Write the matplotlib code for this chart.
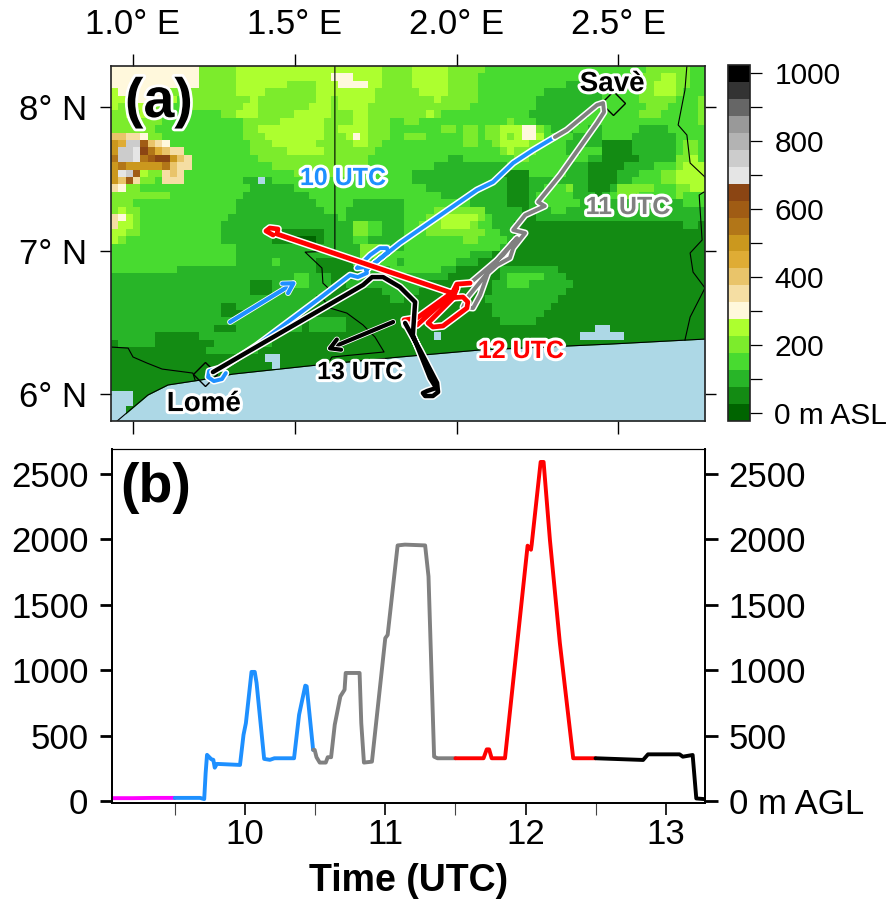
import matplotlib
matplotlib.use('Agg')
import matplotlib.pyplot as plt
import matplotlib.patheffects as pe
from matplotlib.colors import ListedColormap, BoundaryNorm
from matplotlib.colorbar import ColorbarBase
from matplotlib.ticker import FixedLocator
import numpy as np

plt.rcParams['font.family'] = ['Liberation Sans', 'DejaVu Sans']

W, H = 888, 899

# Terrain colours, one per 50 m class
terrain_colors = ['#006400', '#138B13', '#28B528', '#48DB30', '#7CEC2C', '#ADFF2F', '#FFF8DC',
                  '#F5DEA3', '#E9C46A', '#DFAC35', '#CB981E', '#B27618', '#A05C14', '#8B4513',
                  '#E5E5E5', '#CCCCCC', '#B3B3B3', '#999999', '#666666', '#333333', '#000000']
sea_color = '#ADD8E6'

# Terrain classes, north to south (base 36 class, ~ = water)
terrain_rows = [
    "6666666666 6644444555 5555555555 5555555444 4555554444 4333333333 3333333333 3334444443 3",
    "6666666666 6644444555 5555555555 6665555444 4555554444 3333333333 3333233333 3344455443 3",
    "6666666666 6644444555 5555444455 5666655444 4555554444 3333333333 3322222333 3344555443 3",
    "5666666644 4444444555 5444444455 5555554444 4455554444 3333333332 2222222333 3344555433 3",
    "5566666553 4444444445 4444444455 4555554444 4444544444 3333333322 2222222333 3344444333 4",
    "5445554333 4444444455 4444444555 4555544444 4444444443 3333333322 2222223333 3334443333 4",
    "4454544333 3333344555 4444455555 4445544444 4445433333 3333333222 2222233333 3344433333 4",
    "4444444333 3333333344 4445555554 4445544433 4433333333 3333433322 2222333333 3333333333 4",
    "4444443333 3333333344 5555555554 4555544433 3333344344 3445556643 2223322333 3322223333 3",
    "8877644333 3333333344 4555555554 4456544433 4443333344 3445456653 3332222333 3222222333 3",
    "a9ffc87633 3333333334 4455555544 4445544333 3333333344 3345555443 3322222111 1222222344 3",
    "affedb9877 3333333334 4444555554 4444443333 3333333333 3334544433 3322333111 1222222344 3",
    "bffebcdda8 7333333333 4444444444 4444433333 3333332233 3333344333 3333322111 1122222445 3",
    "abaaaaab87 7333333333 3344444444 4444433333 3333222222 2222333333 3322211111 2222333455 5",
    "aefc544787 3333333333 3333343344 4443333333 3222222222 2221111333 3322211112 2233344555 5",
    "a8c7443777 3333333322 ~233333333 3333333333 3222222222 2222111222 2222211112 2333344555 5",
    "7644333333 3333333332 2222233333 3333333333 3332222222 2222111223 3342211124 4444333445 5",
    "4444444433 3333333322 2222222333 3333333333 3333322222 2222111233 3332221234 4433333433 3",
    "4443333333 3333333222 2222222233 3332222222 3333333332 2222111223 3333222222 2222222233 3",
    "4544333333 3333333222 2222222223 3322222222 3333444444 4222221222 3322222222 2222222222 2",
    "7654333333 3333332222 2222222222 2322222222 3334455555 4322221122 2222222222 2222222222 2",
    "7554333333 3333322222 2222222222 2224433222 3344455554 3322211111 1111111111 1111111122 1",
    "5544333333 3333322222 2211111112 2224433222 3334444444 4332211111 1111111111 1111111111 1",
    "5433333333 3333322222 2211100012 2223322222 3333333344 3333211111 1111111111 1111111111 1",
    "3333333333 3333333222 2222222222 2222444322 3333333333 3332211111 1111111111 1111111111 1",
    "3333333333 3333333222 2222222222 2222444333 3333333332 2211111111 1111111111 1111111111 1",
    "3333333333 3333333222 2232222211 1113333332 3333333222 1111111111 1111111111 1111111111 1",
    "3333333332 2222222222 2222222211 1111222233 3333322111 1112222222 2111111111 1111111111 1",
    "2222222222 2222222222 2222233222 1111222222 2222221111 1112333332 2211111111 1111111111 1",
    "2222222222 2222222221 1122233222 1122222222 2221111111 1122333222 2221111111 1111111111 1",
    "2222222222 2222222221 1122222222 1111111222 2211111111 1122222222 2211111111 1111111111 1",
    "2222222222 2222222222 2222222211 1111111122 1111111111 1222222222 2111111111 1111111111 1",
    "2222222222 2222211222 2222222111 1111111111 1111111111 1122222222 1111111111 1111111111 1",
    "2222222222 2222211122 2222221111 1111111111 1111111111 1122222221 1111111111 1111111111 1",
    "2222222222 2222222222 2222221222 2211111111 1111111111 1112222211 1111111111 1111111111 1",
    "2222222222 2222111222 2222221222 2211111111 1111111111 1111111111 111111~~11 1111111111 1",
    "2222221111 1122222222 2211111111 1111111111 1111~11111 1111111111 1111~~~~~~ 1111111111 1",
    "1222221111 1111222222 2211111111 1111111111 1111111111 1",
    "1111111111 1112222222 1111111111 1",
    "1111111111 1111111111 1~~1111111 1",
    "1111111111 1111111111 11~1111111 1",
    "1",
    "1",
    "1",
    "~~~1111111 1",
    "~~~1111111 1",
    "~~11111111 1",
    "~~11111111 1",
]

# Coast and borders (lon, lat)
coast_lon = [0.951, 1.046, 1.108, 1.207, 1.309, 1.569, 1.825, 2.073, 2.474, 2.768]
coast_lat = [5.812, 5.993, 6.063, 6.097, 6.139, 6.202, 6.258, 6.307, 6.348, 6.383]
togo_benin_lon = [1.624, 1.624, 1.532, 1.584, 1.587, 1.603, 1.578, 1.609, 1.661, 1.711, 1.748, 1.776, 1.615, 1.609]
togo_benin_lat = [8.286, 6.996, 6.989, 6.878, 6.773, 6.739, 6.690, 6.599, 6.564, 6.481, 6.397, 6.293, 6.258, 6.237]
ghana_togo_lon = [0.935, 0.985, 1.0, 1.043, 1.090, 1.185, 1.192]
ghana_togo_lat = [6.327, 6.320, 6.258, 6.216, 6.174, 6.146, 6.097]
east1_lon = [2.712, 2.706, 2.685, 2.712, 2.722, 2.768]
east1_lat = [8.286, 8.118, 7.875, 7.805, 7.610, 7.512]
east2_lon = [2.765, 2.750, 2.759, 2.722, 2.731, 2.768, 2.722, 2.706]
east2_lat = [7.408, 7.387, 7.073, 6.983, 6.850, 6.739, 6.536, 6.376]

# Flight tracks, hour by hour
track10_lon = [1.287, 1.275, 1.250, 1.232, 1.235, 1.257, 1.275, 1.383, 1.578, 1.671, 1.695, 1.723, 1.720, 1.692,
               1.733, 1.763, 1.785, 1.788, 1.739, 1.720, 1.825, 2.063, 2.113, 2.175, 2.236, 2.304]
track10_lat = [6.146, 6.104, 6.090, 6.118, 6.160, 6.174, 6.181, 6.341, 6.669, 6.829, 6.815, 6.843, 6.885, 6.878,
               6.969, 7.017, 7.017, 6.989, 6.899, 6.864, 7.052, 7.422, 7.477, 7.610, 7.700, 7.791]
track11_lon = [2.304, 2.341, 2.434, 2.453, 2.456, 2.434, 2.320, 2.252, 2.273, 2.212, 2.175, 2.212, 2.175,
               2.165, 2.125, 2.097, 2.073, 2.051, 2.020, 2.035, 2.103, 2.134, 2.187, 2.144, 2.097, 2.042]
track11_lat = [7.791, 7.840, 8.014, 8.028, 7.965, 7.888, 7.526, 7.338, 7.310, 7.247, 7.143, 7.122, 7.017,
               6.948, 6.899, 6.843, 6.690, 6.599, 6.606, 6.676, 6.864, 6.955, 7.087, 6.969, 6.878, 6.773]
track12_lon = [2.042, 2.001, 1.989, 1.878, 1.838, 1.841, 1.878, 1.971, 2.020, 2.035, 2.032, 1.958, 1.927,
               1.912, 1.989, 2.001, 1.986, 1.445, 1.448, 1.423, 1.411, 1.433]
track12_lat = [6.773, 6.766, 6.711, 6.530, 6.516, 6.481, 6.481, 6.669, 6.676, 6.641, 6.599, 6.474, 6.467,
               6.495, 6.669, 6.739, 6.704, 7.115, 7.150, 7.157, 7.136, 7.108]
track13_lon = [1.841, 1.887, 1.940, 1.943, 1.927, 1.903, 1.896, 1.909, 1.937, 1.918, 1.865, 1.872, 1.825,
               1.773, 1.739, 1.711, 1.247]
track13_lat = [6.495, 6.307, 6.077, 6.014, 5.986, 5.986, 6.007, 6.021, 6.042, 6.111, 6.411, 6.641, 6.746,
               6.815, 6.815, 6.760, 6.153]

# Altitude time series (time in UTC hours, altitude in m AGL)
t_ground = [9.05, 9.2, 9.35, 9.5]
z_ground = [22, 22, 24, 24]
t_blue = [9.5, 9.68, 9.71, 9.72, 9.73, 9.76, 9.775, 9.785, 9.80, 9.965, 9.99, 10.007, 10.047, 10.07, 10.083,
          10.137, 10.178, 10.21, 10.35, 10.386, 10.43, 10.44, 10.486]
z_blue = [24, 24, 15, 212, 353, 320, 315, 255, 284, 276, 506, 596, 987, 987, 903,
          322, 315, 327, 327, 660, 882, 877, 391]
t_grey = [10.486, 10.497, 10.51, 10.533, 10.576, 10.59, 10.614, 10.64, 10.68, 10.71, 10.718, 10.817, 10.829,
          10.848, 10.905, 11.0, 11.017, 11.088, 11.14, 11.284, 11.308, 11.348, 11.372, 11.5]
z_grey = [391, 391, 335, 294, 294, 335, 335, 583, 800, 851, 979, 979, 596,
          294, 301, 1245, 1270, 1954, 1960, 1954, 1717, 339, 327, 327]
t_red = [11.5, 11.7, 11.723, 11.74, 11.758, 11.853, 12.014, 12.038, 12.043, 12.107, 12.128, 12.173, 12.244, 12.339, 12.498]
z_red = [327, 327, 395, 395, 327, 327, 1952, 1921, 1959, 2592, 2592, 1997, 1207, 327, 327]
t_black = [12.498, 12.837, 12.872, 13.097, 13.12, 13.19, 13.216, 13.27]
z_black = [327, 314, 357, 357, 339, 352, 20, 15]

cbar_ticks = list(range(0, 1001, 100))
cbar_labels = ['0 m ASL', '', '200', '', '400', '', '600', '', '800', '', '1000']
alt_ticks = [0, 500, 1000, 1500, 2000, 2500]
hour_ticks = [10, 11, 12, 13]
half_ticks = [9.5, 10.5, 11.5, 12.5]

fs = 25
halo = [pe.withStroke(linewidth=4.4, foreground='white')]


def px_axes(left, top, right, bottom):
    return fig.add_axes([left / W, 1 - bottom / H, (right - left) / W, (bottom - top) / H])


def track(ax, lon, lat, col, lw):
    ax.plot(lon, lat, color=col, lw=lw, solid_capstyle='round', solid_joinstyle='round',
            path_effects=[pe.Stroke(linewidth=lw + 2.2, foreground='white'), pe.Normal()], zorder=5)


fig = plt.figure(figsize=(W / 100, H / 100), dpi=100)

# (a) map
ax = px_axes(111, 66, 705, 421)
xlim = (0.932, 2.768)
ylim = (5.812, 8.286)

levels = np.arange(-25, 1026, 50)
cmap = ListedColormap(terrain_colors)
cmap.set_bad(sea_color)
norm = BoundaryNorm(levels, cmap.N)

elev = []
for row in terrain_rows:
    row = row.replace(' ', '').ljust(81, row[-1])[:81]
    elev.append([np.nan if c == '~' else int(c, 36) * 50.0 for c in row])
elev = np.array(elev)
lon_edges = np.linspace(xlim[0], xlim[1], elev.shape[1] + 1)
lat_edges = np.linspace(ylim[1], ylim[0], elev.shape[0] + 1)
ax.pcolormesh(lon_edges, lat_edges, np.ma.masked_invalid(elev), cmap=cmap, norm=norm, zorder=1)

ax.fill_between(coast_lon, coast_lat, ylim[0], color=sea_color, lw=0, zorder=2)
ax.plot(coast_lon, coast_lat, color='k', lw=0.8, zorder=3)
ax.plot(togo_benin_lon, togo_benin_lat, color='k', lw=0.8, zorder=3)
ax.plot(ghana_togo_lon, ghana_togo_lat, color='k', lw=0.8, zorder=3)
ax.plot(east1_lon, east1_lat, color='k', lw=0.8, zorder=3)
ax.plot(east2_lon, east2_lat, color='k', lw=0.8, zorder=3)

track(ax, track10_lon, track10_lat, 'dodgerblue', 2.8)
track(ax, track11_lon, track11_lat, 'gray', 2.8)
track(ax, track12_lon, track12_lat, 'red', 3.4)
track(ax, track13_lon, track13_lat, 'black', 3.2)

for tail, head, col in [((1.300, 6.502), (1.507, 6.787), 'dodgerblue'), ((1.804, 6.502), (1.597, 6.307), 'black')]:
    ax.annotate('', xy=head, xytext=tail, zorder=6,
                arrowprops=dict(arrowstyle='->,head_length=0.7,head_width=0.4', color=col, lw=3.0,
                                shrinkA=0, shrinkB=0,
                                path_effects=[pe.Stroke(linewidth=4.2, foreground='white'), pe.Normal()]))

ax.plot([2.484, 1.223], [8.028, 6.139], ls='none', marker='D', ms=12, mfc='none', mec='k', mew=1.0, zorder=4)

for lon, lat, txt, col, size in [(1.649, 7.505, '10 UTC', 'dodgerblue', 18), (2.530, 7.303, '11 UTC', 'gray', 18),
                                 (2.199, 6.300, '12 UTC', 'red', 18), (1.702, 6.153, '13 UTC', 'black', 18),
                                 (2.481, 8.160, 'Savè', 'black', 20), (1.219, 5.930, 'Lomé', 'black', 20)]:
    ax.text(lon, lat, txt, color=col, fontsize=size, fontweight='bold', ha='center', va='center',
            path_effects=halo, zorder=7)
ax.text(1.080, 8.028, '(a)', fontsize=40, fontweight='bold', ha='center', va='center',
        path_effects=[pe.withStroke(linewidth=4, foreground='white')], zorder=7)

ax.set_xlim(xlim)
ax.set_ylim(ylim)
ax.set_xticks([1.0, 1.5, 2.0, 2.5])
ax.set_xticklabels(['1.0° E', '1.5° E', '2.0° E', '2.5° E'])
ax.set_yticks([6, 7, 8])
ax.set_yticklabels(['6° N', '7° N', '8° N'])
ax.tick_params(axis='x', top=True, bottom=True, labeltop=True, labelbottom=False, length=9, width=1.0,
               labelsize=fs, pad=9)
ax.tick_params(axis='y', left=True, right=True, length=8, width=1.0, labelsize=fs, pad=9)
for s in ax.spines.values():
    s.set_linewidth(1.2)
    s.set_color('#222222')
    s.set_zorder(8)

# colour bar
cax = px_axes(728, 65, 750, 421)
cb = ColorbarBase(cax, cmap=cmap, norm=norm, boundaries=levels, spacing='proportional', ticks=cbar_ticks)
cb.set_ticklabels(cbar_labels)
cb.minorticks_off()
cb.outline.set_linewidth(1.2)
cb.outline.set_edgecolor('#222222')
cax.tick_params(axis='y', length=8.5, width=0.9, labelsize=21.5, pad=9)

# (b) altitude
ax2 = px_axes(112, 449, 705, 803)
for t, z, col in [(t_ground, z_ground, 'magenta'), (t_blue, z_blue, 'dodgerblue'), (t_grey, z_grey, 'gray'),
                  (t_red, z_red, 'red'), (t_black, z_black, 'black')]:
    ax2.plot(t, z, color=col, lw=2.8, solid_capstyle='round', solid_joinstyle='round')
ax2.text(9.366, 2393, '(b)', fontsize=40, fontweight='bold', ha='center', va='center')
ax2.set_xlim(9.053, 13.278)
ax2.set_ylim(-15, 2691)
ax2.set_xticks(hour_ticks)
ax2.xaxis.set_minor_locator(FixedLocator(half_ticks))
ax2.set_yticks(alt_ticks)
ax2.tick_params(axis='x', which='major', length=8.5, width=1.2, labelsize=fs, pad=2)
ax2.tick_params(axis='x', which='minor', length=8.5, width=0.8, color='#444444')
ax2.tick_params(axis='y', left=True, right=True, length=9, width=2.0, labelsize=fs, pad=8)
ax2.set_xlabel('Time (UTC)', fontsize=27, fontweight='bold', labelpad=9)
for s in ax2.spines.values():
    s.set_linewidth(1.3)
ax2.spines['top'].set_linewidth(0.8)

ax3 = ax2.twinx()
ax3.set_ylim(ax2.get_ylim())
ax3.set_yticks(alt_ticks)
ax3.set_yticklabels(['0 m AGL', '500', '1000', '1500', '2000', '2500'])
ax3.tick_params(axis='y', length=9, width=2.0, labelsize=fs, pad=8)
for s in ax3.spines.values():
    s.set_linewidth(1.3)
ax3.spines['top'].set_linewidth(0.8)

fig.savefig('out.png', dpi=100)
